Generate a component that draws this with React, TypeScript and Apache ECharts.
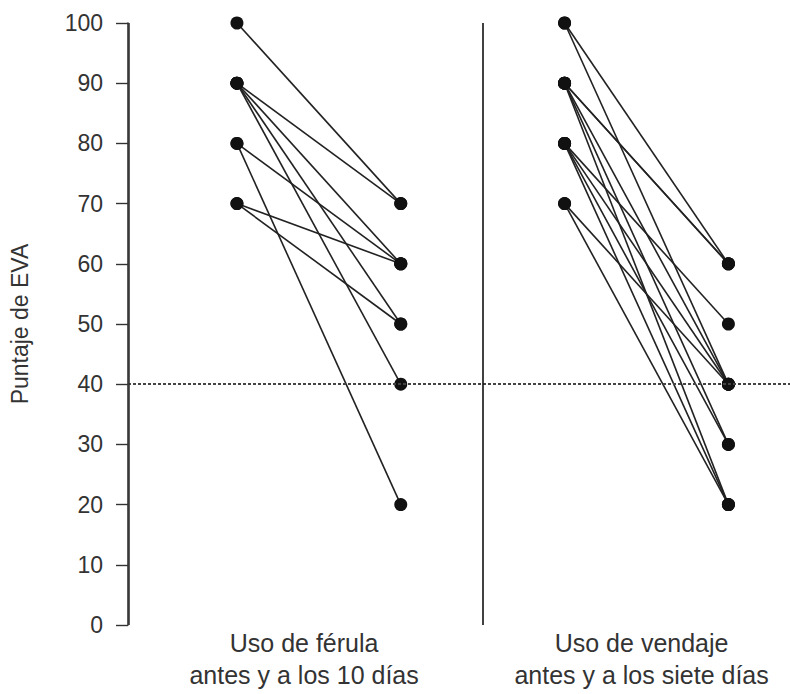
import React, { useEffect, useRef } from "react";
import * as echarts from "echarts";

// Group labels (x-axis)
const groupLabels = [
  "Uso de férula\nantes y a los 10 días",
  "Uso de vendaje\nantes y a los siete días",
];
const yTicks = [0, 10, 20, 30, 40, 50, 60, 70, 80, 90, 100];
const yAxisTitle = "Puntaje de EVA";
const threshold = 40;

// Left panel: férula (before -> after 10 days)
const leftBefore = [100, 90, 90, 90, 90, 80, 80, 70, 70];
const leftAfter = [70, 70, 60, 50, 40, 60, 20, 60, 50];

// Right panel: vendaje (before -> after seven days)
const rightBefore = [100, 100, 90, 90, 90, 90, 90, 80, 80, 80, 80, 70, 70];
const rightAfter = [60, 40, 60, 60, 40, 30, 20, 50, 40, 30, 20, 40, 20];

const FONT = "'Liberation Sans', Arial, sans-serif";
const X_MIN = -0.665;
const X_MAX = 3.376;

export default function App() {
  const ref = useRef<HTMLDivElement>(null);
  useEffect(() => {
    if (!ref.current) return;
    const chart = echarts.init(ref.current, undefined, { renderer: "svg" });

    const mkSeries = (before: number[], after: number[], x0: number) =>
      before.map((b, i) => ({
        type: "line" as const,
        data: [
          [x0, b],
          [x0 + 1, after[i]],
        ],
        symbol: "circle",
        symbolSize: 13,
        itemStyle: { color: "#111" },
        lineStyle: { color: "#222", width: 1.6 },
        z: 3,
        silent: true,
        clip: false,
      }));

    const series: any[] = [
      ...mkSeries(leftBefore, leftAfter, 0),
      ...mkSeries(rightBefore, rightAfter, 2),
    ];
    series[0].markLine = {
      silent: true,
      symbol: "none",
      label: { show: false },
      data: [
        {
          yAxis: threshold,
          lineStyle: { color: "#444", width: 2, type: [3, 2] },
        },
        {
          xAxis: 1.5,
          lineStyle: { color: "#111", width: 1.6, type: "solid" },
        },
        {
          xAxis: X_MIN + 0.004,
          lineStyle: { color: "#333", width: 1.6, type: "solid" },
        },
      ],
    };

    chart.setOption({
      animation: false,
      backgroundColor: "#fff",
      grid: { left: 122, right: 0, top: 23, bottom: 69 },
      xAxis: {
        type: "value",
        min: X_MIN,
        max: X_MAX,
        axisLine: { show: false, onZero: false },
        axisTick: { show: false },
        splitLine: { show: false },
        axisLabel: {
          customValues: [0.41, 2.47],
          formatter: (v: number) => (v < 1.5 ? groupLabels[0] : groupLabels[1]),
          fontFamily: FONT,
          fontSize: 25,
          lineHeight: 32,
          color: "#333",
          margin: 2,
        },
      },
      yAxis: {
        type: "value",
        position: "left",
        min: yTicks[0],
        max: yTicks[yTicks.length - 1],
        interval: 10,
        name: yAxisTitle,
        nameLocation: "middle",
        nameGap: 97,
        nameTextStyle: { fontFamily: FONT, fontSize: 23, color: "#333" },
        axisLine: { show: true, onZero: false, lineStyle: { color: "#333", width: 1.6 } },
        axisTick: { show: true, length: 12, lineStyle: { color: "#333", width: 1.4 } },
        axisLabel: { fontFamily: FONT, fontSize: 23, color: "#333", margin: 25 },
        splitLine: { show: false },
      },
      series,
    });
    return () => chart.dispose();
  }, []);
  return (
    <div
      ref={ref}
      style={{ position: "fixed", left: 0, top: 0, width: 790, height: 694, background: "#fff" }}
    />
  );
}
